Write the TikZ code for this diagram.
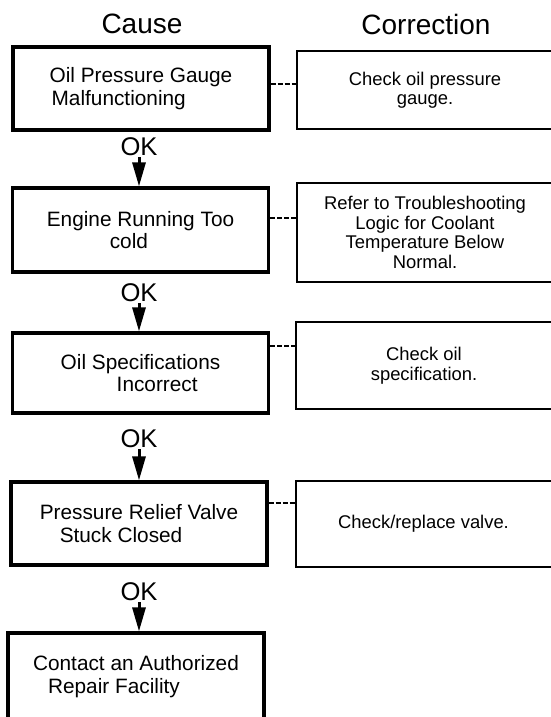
\documentclass[tikz,border=0pt]{standalone}
\usepackage{fontspec}
\setmainfont{Liberation Sans}
\usetikzlibrary{arrows.meta}
\definecolor{scanink}{RGB}{0,0,0}

\begin{document}
\begin{tikzpicture}[
    x=1pt,
    y=-1pt,
    causebox/.style={
      rectangle,
      draw=scanink,
      line width=3.2pt,
      minimum width=256pt,
      inner sep=0pt,
      align=left,
      font=\fontsize{20.8}{22.5}\selectfont
    },
    fixbox/.style={
      rectangle,
      draw=scanink,
      line width=2pt,
      minimum width=256pt,
      inner sep=0pt,
      align=center,
      font=\fontsize{18.4}{19.5}\selectfont
    },
    heading/.style={
      inner sep=1pt,
      font=\fontsize{28}{30}\selectfont
    },
    oklabel/.style={
      inner sep=1pt,
      font=\fontsize{25.6}{28}\selectfont
    },
    passarrow/.style={
      scanink,
      line width=3pt,
      -{Triangle[length=24pt,width=13pt]}
    },
    fixlink/.style={
      scanink,
      line width=2pt,
      dash pattern=on 5pt off 2pt
    }
]
\useasboundingbox (0,0) rectangle (550,717);

% Column headings.
\node[heading] (hcause) at (142,24) {Cause};
\node[heading] (hfix) at (426,24) {Correction};

% Cause column.
\node[causebox,minimum height=83pt] (c1) at (141,88.5)
  {Oil Pressure Gauge\\\hspace*{2pt}Malfunctioning};
\node[causebox,minimum height=84pt] (c2) at (140.5,230)
  {Engine Running Too\\\hspace*{63pt}cold};
\node[causebox,minimum height=80pt] (c3) at (140.5,373)
  {Oil Specifications\\\hspace*{56pt}Incorrect};
\node[causebox,minimum height=83pt] (c4) at (139,523.5)
  {Pressure Relief Valve\\\hspace*{20pt}Stuck Closed};
\node[causebox,minimum height=87pt] (c5) at (136,676.5)
  {Contact an Authorized\\\hspace*{15pt}Repair Facility};

% Correction column.
\node[fixbox,minimum height=78pt] (r1) at (425,90)
  {Check oil pressure\\gauge.};
\node[fixbox,minimum height=99pt] (r2) at (425,232.5)
  {Refer to Troubleshooting\\Logic for Coolant\\Temperature Below\\Normal.};
\node[fixbox,minimum height=87pt] (r3) at (424,365.5)
  {Check oil\\specification.};
\node[fixbox,minimum height=86pt] (r4) at (423.5,524)
  {Check/replace valve.};

% OK steps down the cause column.
\foreach \i/\y/\n in {1/147/2, 2/293/3, 3/439/4, 4/592/5}{
  \node[oklabel] (ok\i) at (139,\y) {OK};
  \draw[passarrow] (ok\i) -- (ok\i |- c\n.north);
}

% Dashed links to the corrections.
\foreach \i/\y in {1/84, 2/218, 3/346, 4/503}
  \draw[fixlink] (c\i.east |- 0,\y) -- (r\i.west |- 0,\y);

\end{tikzpicture}
\end{document}
